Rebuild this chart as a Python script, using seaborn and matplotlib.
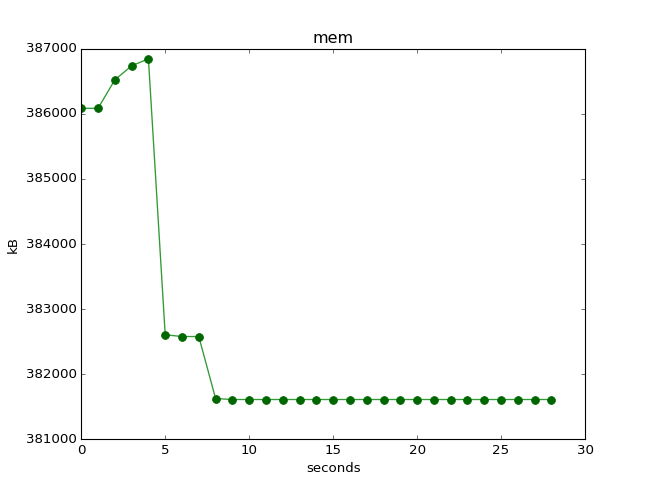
import matplotlib
matplotlib.use("Agg")
import matplotlib.pyplot as plt
import seaborn as sns
import pandas as pd

seconds = list(range(29))
mem_kb = [386085, 386085, 386523, 386738, 386846, 382605, 382578, 382578, 381625] + [381610] * 20

plt.style.use("classic")
plt.rcParams["font.family"] = ["DejaVu Sans"]

df = pd.DataFrame({"seconds": seconds, "kB": mem_kb})

fig, ax = plt.subplots(figsize=(8.125, 6.1), dpi=80)
sns.lineplot(data=df, x="seconds", y="kB", ax=ax, color=(0, 0.5, 0),
             marker="o", markersize=7, markeredgecolor=(0, 0.5, 0) , linewidth=1.2)
ax.lines[0].set_markerfacecolor((0, 0.4, 0))
ax.lines[0].set_color((0.2, 0.6, 0.2))
ax.lines[0].set_markeredgecolor((0, 0.4, 0))
ax.set_xlim(0, 30)
ax.set_ylim(381000, 387000)
ax.ticklabel_format(useOffset=False, style="plain", axis="y")
ax.set_title("mem")
ax.set_xlabel("seconds")
ax.set_ylabel("kB")
fig.savefig("out.png", dpi=80)
